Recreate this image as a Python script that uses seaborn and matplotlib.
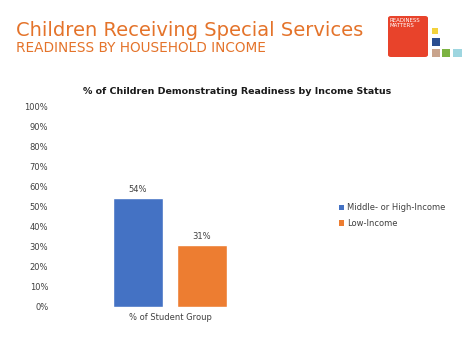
import pandas as pd
import matplotlib
matplotlib.use("Agg")
import matplotlib.pyplot as plt
import matplotlib.ticker as ticker
from matplotlib.patches import FancyBboxPatch, Rectangle, Patch
import seaborn as sns

# data
groups = ["Middle- or High-Income", "Low-Income"]
category = ["% of Student Group", "% of Student Group"]
readiness = [0.54, 0.31]
bar_colors = ["#4472C4", "#ED7D31"]
y_ticks = [0, 0.1, 0.2, 0.3, 0.4, 0.5, 0.6, 0.7, 0.8, 0.9, 1.0]

df = pd.DataFrame({"category": category, "group": groups, "value": readiness})

sns.set_theme(style="white")
plt.rcParams["font.family"] = ["DejaVu Sans"]

W, H = 474, 355
fig = plt.figure(figsize=(W / 100, H / 100), dpi=100)
fig.patch.set_facecolor("white")


def fx(px):
    return px / W


def fy(py):
    return 1 - py / H


# header texts
fig.text(fx(16), fy(30), "Children Receiving Special Services", color="#E4732A",
         fontsize=14, va="center", ha="left")
fig.text(fx(16), fy(48), "READINESS BY HOUSEHOLD INCOME", color="#E4732A",
         fontsize=9.8, va="center", ha="left")

# logo
fig.patches.append(FancyBboxPatch((fx(388), fy(57)), fx(40), 41 / H,
                                  boxstyle="round,pad=0,rounding_size=0.006",
                                  transform=fig.transFigure, facecolor="#E8432B",
                                  edgecolor="none"))
fig.text(fx(389), fy(23), "READINESS\nMATTERS", color="white", fontsize=4.3,
         va="center", ha="left", linespacing=0.95, fontstretch="condensed")
for x0, y0, w, h, c in [(432, 28, 6, 6, "#F3D23C"), (432, 38, 8, 8, "#2A4D8F"),
                        (432, 49, 8, 8, "#C9A48C"), (442, 49, 8, 8, "#7CB342"),
                        (453, 49, 9, 8, "#9ED6E0")]:
    fig.patches.append(Rectangle((fx(x0), fy(y0 + h)), fx(w), h / H,
                                 transform=fig.transFigure, facecolor=c, edgecolor="none"))

# chart
ax = fig.add_axes([fx(58), fy(307), fx(224), 201 / H])
sns.barplot(data=df, x="category", y="value", hue="group", palette=bar_colors,
            width=0.8, gap=0.22, saturation=1, ax=ax, legend=False)
ax.set_xlim(-0.7, 0.7)
ax.set_ylim(0, 1.0)
ax.set_yticks(y_ticks)
ax.yaxis.set_major_formatter(ticker.PercentFormatter(1.0, decimals=0))
ax.tick_params(axis="both", labelsize=6, colors="#404040", length=0, pad=7)
ax.tick_params(axis="x", pad=4)
ax.set_xlabel("")
ax.set_ylabel("")
sns.despine(ax=ax, left=True, bottom=True)

for cont in ax.containers:
    ax.bar_label(cont, labels=[f"{v:.0%}" for v in cont.datavalues],
                 fontsize=6, color="#404040", padding=3)

fig.text(fx(237), fy(91), "% of Children Demonstrating Readiness by Income Status",
         fontsize=6.8, fontweight="bold", color="#1a1a1a", ha="center", va="center")

handles = [Patch(facecolor=c, edgecolor="none") for c in bar_colors]
fig.legend(handles, groups, loc="upper left", bbox_to_anchor=(fx(335), fy(199)),
           frameon=False, fontsize=6, labelcolor="#404040", handlelength=0.6,
           handleheight=0.6, handletextpad=0.3, labelspacing=0.8, borderpad=0)

fig.savefig("out.png", dpi=100, facecolor="white")
